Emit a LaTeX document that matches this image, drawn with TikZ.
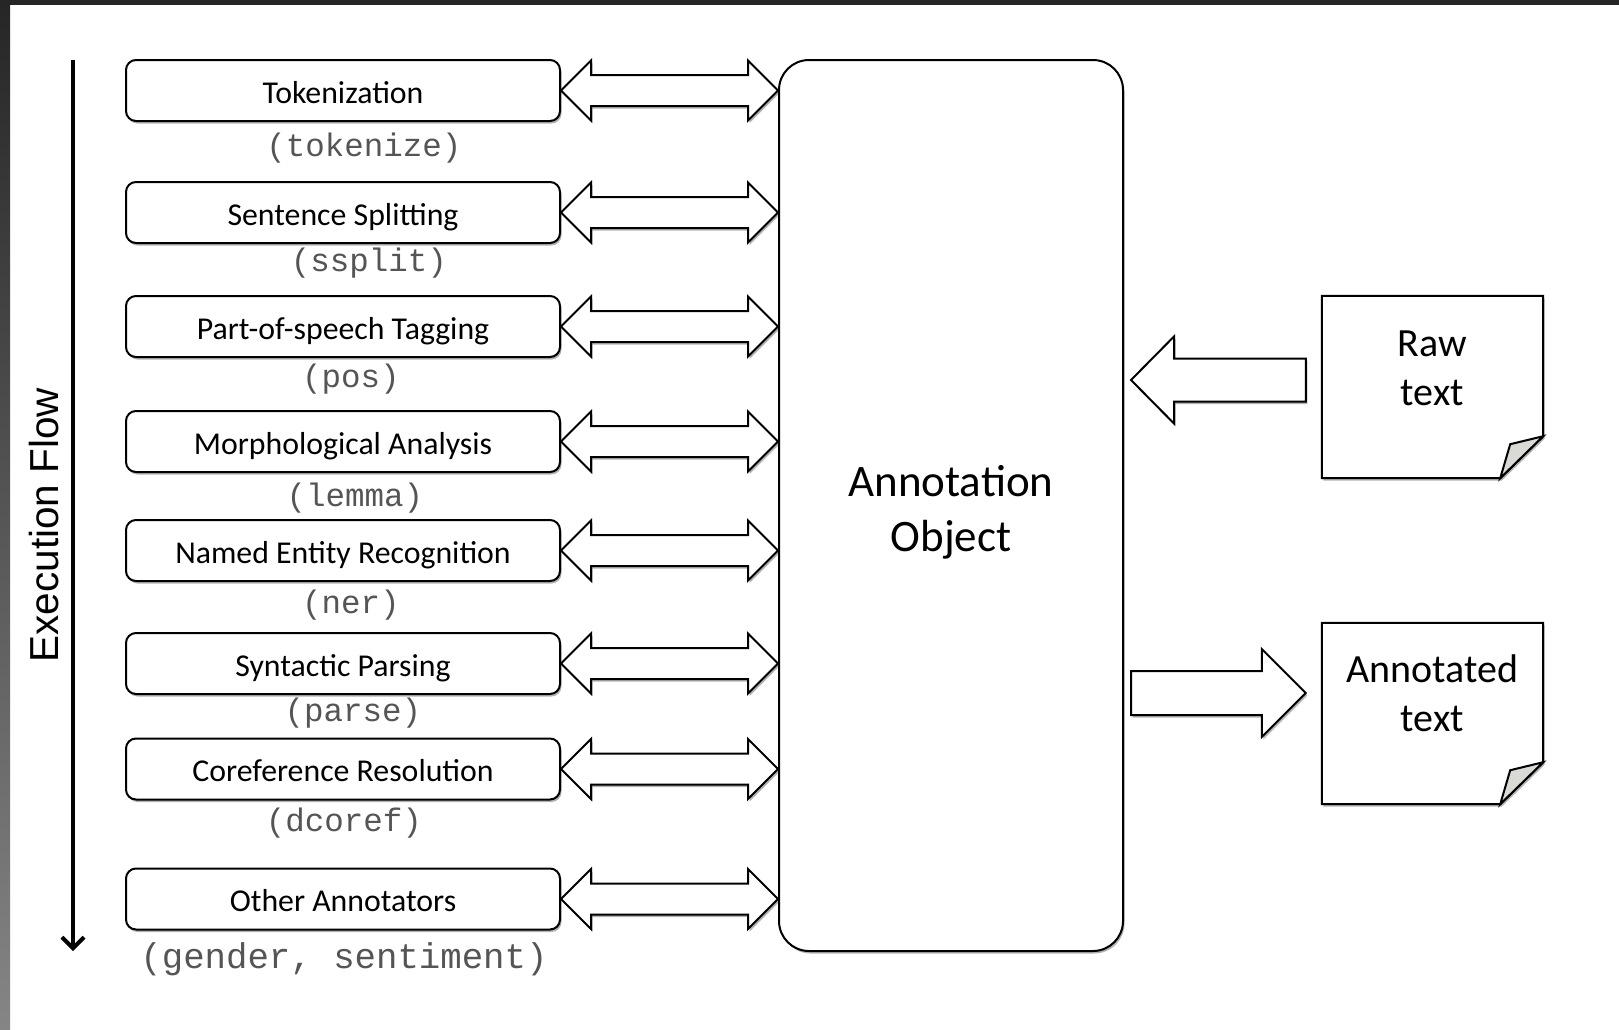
\documentclass[tikz,border=0pt]{standalone}
\usepackage{fontspec}
\setmainfont{Carlito}
\setmonofont{Liberation Mono}
\newfontfamily\flowfont{Liberation Sans}
\usetikzlibrary{calc,arrows.meta,shadows}

\definecolor{frameTop}{HTML}{262626}
\definecolor{frameBot}{HTML}{858585}
\definecolor{codegray}{HTML}{555555}
\definecolor{flapgray}{HTML}{D9DAD6}

\tikzset{
  softshadow/.style={drop shadow={shadow xshift=1.5pt, shadow yshift=-2.5pt, opacity=0.3, fill=black}},
  stage/.style={draw, line width=2pt, rounded corners=10pt, minimum width=434pt,
    minimum height=61pt, fill=white, softshadow, inner sep=0pt,
    text height=25.8pt, text depth=0pt,
    font=\fontsize{31.8}{36}\selectfont},
  code/.style={text=codegray, inner sep=0pt, font=\ttfamily\fontsize{32.5}{38}\selectfont},
  hub/.style={draw, line width=2pt, rounded corners=30pt, minimum width=344pt,
    minimum height=891pt, fill=white, softshadow},
  hubtext/.style={align=center, inner sep=0pt, font=\fontsize{45}{55}\selectfont},
  page/.style={minimum width=221pt, inner sep=0pt},
  pagetext/.style={align=center, inner sep=0pt, font=\fontsize{40}{49}\selectfont},
  pageline/.style={draw, line width=2pt, line join=miter},
  linkarrow/.style={draw, fill=white, line width=2pt, line join=miter, softshadow},
  bigarrow/.style={draw, fill=white, line width=2pt, line join=miter, softshadow},
  flowarrow/.style={line width=4pt, -{Straight Barb[length=11pt, width=22pt, line width=4pt]}},
}

% two-headed arrow between a stage box and the annotation object
\newcommand{\twoway}[2]{%
  \path[linkarrow] let \p1=(#1.east), \p2=(#2.west) in
    (\x1,\y1) -- (\x1+30pt,\y1+30pt) -- (\x1+30pt,\y1+15.5pt) --
    (\x2-30pt,\y1+15.5pt) -- (\x2-30pt,\y1+30pt) -- (\x2,\y1) --
    (\x2-30pt,\y1-30pt) -- (\x2-30pt,\y1-15.5pt) -- (\x1+30pt,\y1-15.5pt) --
    (\x1+30pt,\y1-30pt) -- cycle;}

% sheet of paper with a turned-up bottom right corner
\newcommand{\sheet}[1]{%
  \path[pageline, fill=white, softshadow] (#1.north west) -- (#1.north east) --
    ($(#1.south east)+(0,42)$) -- ($(#1.south east)+(-43,0)$) -- (#1.south west) -- cycle;
  \path[pageline, fill=flapgray] ($(#1.south east)+(0,42)$) --
    ($(#1.south east)+(-33,34)$) -- ($(#1.south east)+(-43,0)$) -- cycle;}

\begin{document}
\begin{tikzpicture}[x=1pt, y=1pt]
  \useasboundingbox (0,0) rectangle (1619,-1029);
  \fill[white] (0,0) rectangle (1619,-1029);
  \shade[top color=frameTop, bottom color=frameBot] (0,0) rectangle (10,-1029);
  \fill[frameTop] (0,0) rectangle (1619,-5);

  % execution order
  \coordinate (flowtop) at (73,-60);
  \coordinate (flowend) at (73,-951);
  \draw[flowarrow] (flowtop) -- (flowend);
  \node[rotate=90, inner sep=0pt, font=\flowfont\fontsize{40.5}{48}\selectfont] (flow) at (44,-525) {Execution Flow};

  % annotators
  \node[stage] (tok)  at (343,-90.5) {Tokenization};
  \node[stage] (ssp)  at (343,-212.5) {Sentence Splitting};
  \node[stage] (pos)  at (343,-326.5) {Part-of-speech Tagging};
  \node[stage] (lem)  at (343,-441.5) {Morphological Analysis};
  \node[stage] (ner)  at (343,-550.5) {Named Entity Recognition};
  \node[stage] (par)  at (343,-663.5) {Syntactic Parsing};
  \node[stage] (cor)  at (343,-769) {Coreference Resolution};
  \node[stage] (oth)  at (343,-899) {Other Annotators};

  \node[code] (tokc) at (364,-148) {(tokenize)};
  \node[code] (sspc) at (369,-263) {(ssplit)};
  \node[code] (posc) at (351,-379) {(pos)};
  \node[code] (lemc) at (355,-498) {(lemma)};
  \node[code] (nerc) at (351,-605) {(ner)};
  \node[code] (parc) at (353,-713) {(parse)};
  \node[code] (corc) at (344,-823) {(dcoref)};
  \node[code, font=\ttfamily\fontsize{35.7}{40}\selectfont] (othc) at (344,-959) {(gender, sentiment)};

  % shared annotation object
  \node[hub] (obj) at (951,-505.5) {};
  \node[hubtext] (objt) at ($(obj.center)+(0,-7)$) {Annotation\\Object};

  \foreach \s in {tok,ssp,pos,lem,ner,par,cor,oth}{\twoway{\s}{obj}}

  % input and output documents
  \node[page, minimum height=182pt] (raw) at (1432.5,-387) {};
  \sheet{raw}
  \node[pagetext] (rawt) at ($(raw.center)+(0,18.5)$) {Raw\\text};

  \node[page, minimum height=181pt] (out) at (1432.5,-713.5) {};
  \sheet{out}
  \node[pagetext] (outt) at ($(out.center)+(0,20.5)$) {Annotated\\text};

  % raw text goes in
  \path[bigarrow] let \p1=($(raw.west)+(-16,7)$), \p2=(obj.east) in
    (\x2+7pt,\y1) -- (\x2+50pt,\y1+43.5pt) -- (\x2+50pt,\y1+21.5pt) --
    (\x1,\y1+21.5pt) -- (\x1,\y1-21.5pt) -- (\x2+50pt,\y1-21.5pt) --
    (\x2+50pt,\y1-43.5pt) -- cycle;

  % annotated text comes out
  \path[bigarrow] let \p1=($(out.west)+(-16,20.5)$), \p2=(obj.east) in
    (\x2+7pt,\y1+22pt) -- (\x1-44pt,\y1+22pt) -- (\x1-44pt,\y1+44pt) --
    (\x1,\y1) -- (\x1-44pt,\y1-44pt) -- (\x1-44pt,\y1-22pt) --
    (\x2+7pt,\y1-22pt) -- cycle;
\end{tikzpicture}
\end{document}
